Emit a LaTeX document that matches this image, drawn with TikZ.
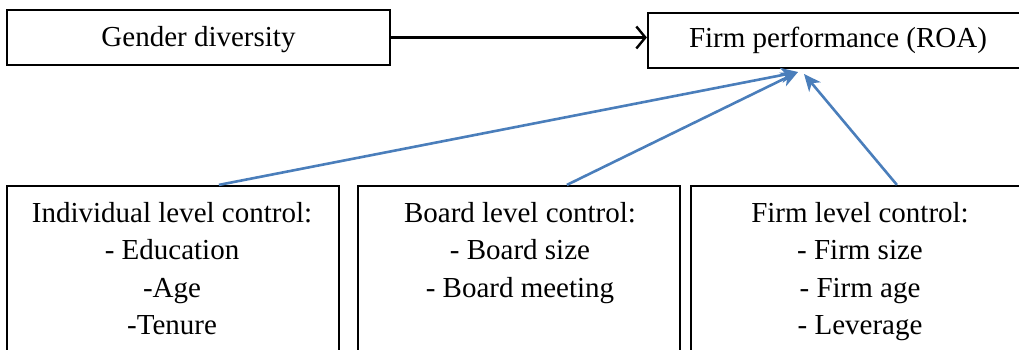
\documentclass[tikz,border=0pt]{standalone}
\usepackage{fontspec}
\setmainfont{Liberation Serif}
\usetikzlibrary{arrows.meta}
\definecolor{wordblue}{RGB}{74,126,187}
\begin{document}
\begin{tikzpicture}[x=1pt,y=1pt,
  box/.style={draw=black, line width=2.2pt, rectangle, inner sep=0pt},
  lbl/.style={font=\fontsize{29}{37.5}\selectfont, inner sep=0pt, align=center},
  blk/.style={draw=black, line width=2.4pt, -{Straight Barb[length=9pt,width=22pt,line width=2.4pt]}},
  blu/.style={draw=wordblue, line width=2.6pt, -{Stealth[length=17pt,width=15pt,inset=5pt]}}]
\useasboundingbox (0,0) rectangle (1019,350);
\clip (0,0) rectangle (1019,350);
% boxes
\node[box, minimum width=383pt, minimum height=55pt] (gd) at (198.5,312.5) {};
\node[box, minimum width=380pt, minimum height=55pt] (fp) at (838,309.5) {};
\node[box, minimum width=332pt, minimum height=200pt] (ind) at (173,64) {};
\node[box, minimum width=322pt, minimum height=200pt] (brd) at (519,64) {};
\node[box, minimum width=340pt, minimum height=200pt] (frm) at (861,64) {};
% texts
\node[lbl, anchor=base] (gdt) at (198.5,303) {Gender diversity};
\node[lbl, anchor=base] (fpt) at (838,302) {Firm performance (ROA)};
\node[lbl, anchor=north] (indt) at (172,148) {Individual level control:\\- Education\\-Age\\-Tenure};
\node[lbl, anchor=north] (brdt) at (520,148) {Board level control:\\- Board size\\- Board meeting};
\node[lbl, anchor=north] (frmt) at (860,148) {Firm level control:\\- Firm size\\- Firm age\\- Leverage};
% connector ends
\coordinate (s1) at ([xshift=213pt]ind.north west);
\coordinate (s2) at ([xshift=210pt]brd.north west);
\coordinate (s3) at ([xshift=207pt]frm.north west);
\coordinate (t12) at (798,278);
\coordinate (t3) at (804,276);
% arrows
\draw[blk] (gd.east) -- (gd.east -| fp.west);
\draw[blu] (s1) -- (t12);
\draw[blu] (s2) -- (t12);
\draw[blu] (s3) -- (t3);
\end{tikzpicture}
\end{document}
